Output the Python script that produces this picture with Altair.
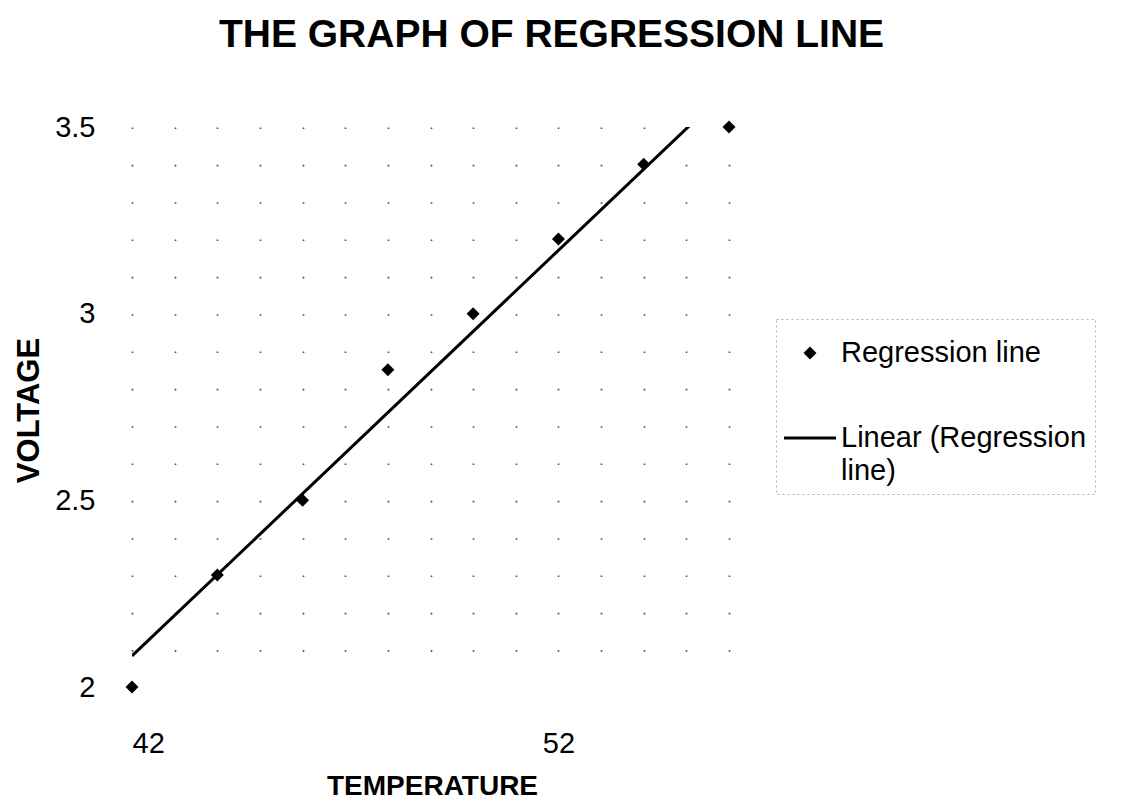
import altair as alt
import pandas as pd

# ---- data ----
temperature = [42, 44, 46, 48, 50, 52, 54, 56]
voltage = [2.0, 2.3, 2.5, 2.85, 3.0, 3.2, 3.4, 3.5]
series_names = ["Regression line", "Linear (Regression line)"]
x_grid_values = list(range(42, 57))
x_label_values = [42, 52]
y_tick_values = [2.0, 2.5, 3.0, 3.5]
chart_title = "THE GRAPH OF REGRESSION LINE"
x_title = "TEMPERATURE"
y_title = "VOLTAGE"

df = pd.DataFrame({"t": temperature, "v": voltage, "s": series_names[0]})

FONT = "Liberation Sans"
# symbol shapes (unit square -1..1): filled diamond, and a thin bar for the trend-line key
diamond_path = "M0,-0.25L0.25,0L0,0.25L-0.25,0Z"
line_path = "M-1,-0.058L1,-0.058L1,0.058L-1,0.058Z"

xscale = alt.Scale(domain=[42, 56], nice=False, zero=False)
yscale = alt.Scale(domain=[2, 3.5], nice=False, zero=False)

label_test = " || ".join(f"datum.value == {v}" for v in x_label_values)

xaxis = alt.Axis(
    values=x_grid_values,
    labelExpr=f"({label_test}) ? datum.label : ''",
    grid=True, gridDash=[1.6, 35.73], gridColor="#444", gridWidth=1.6,
    ticks=False, tickSize=0, domain=False,
    labelPadding=42, labelFontSize=29, labelFont=FONT, labelColor="black",
    labelOverlap=False,
    title=x_title, titleFont=FONT, titleFontSize=28, titleFontWeight="bold",
    titleColor="black", titleX=300, titleY=107, titleBaseline="alphabetic",
    titleAlign="center",
)
yaxis = alt.Axis(
    values=y_tick_values, format=".1~f",
    grid=False, ticks=False, tickSize=0, domain=False,
    labelPadding=37, labelFontSize=29, labelFont=FONT, labelColor="black",
    title=y_title, titleFont=FONT, titleFontSize=31, titleFontWeight="bold",
    titleColor="black", titleX=-94, titleY=283, titleBaseline="alphabetic",
    titleAlign="center", titleAngle=270,
)

legend = alt.Legend(
    title=None, orient="none", legendX=644, legendY=192,
    labelFont=FONT, labelFontSize=29, labelColor="black", labelLimit=400,
    labelOffset=5, labelBaseline="middle",
    symbolSize=2704, symbolStrokeWidth=0, symbolOpacity=1,
    padding=8, rowPadding=44, strokeColor="#b0b0b0",
    labelExpr="datum.label == 'Linear (Regression line)' ? ['Linear (Regression', 'line)'] : datum.label",
)

points = alt.Chart(df).mark_point(filled=True, opacity=1, color="black", size=2704).encode(
    x=alt.X("t:Q", scale=xscale, axis=xaxis),
    y=alt.Y("v:Q", scale=yscale, axis=yaxis),
    shape=alt.Shape("s:N", scale=alt.Scale(domain=series_names, range=[diamond_path, line_path]), legend=legend),
)

reg_line = alt.Chart(df).transform_regression("t", "v", extent=[42, 56]).mark_line(
    color="black", strokeWidth=3, clip=True
).encode(
    x=alt.X("t:Q", scale=xscale),
    y=alt.Y("v:Q", scale=yscale),
)

chart = alt.layer(reg_line, points).properties(
    width=597, height=560,
    autosize=alt.AutoSizeParams(type="none"),
    padding={"left": 124, "top": 119, "right": 384, "bottom": 115},
    title=alt.TitleParams(chart_title, font=FONT, fontSize=39, fontWeight="bold",
                          color="black", anchor="middle", dx=121, offset=58),
).configure(
    background="white",
    view=alt.ViewConfig(stroke="transparent"),
    legend=alt.LegendConfig(strokeDash=[2, 3]),
    style={"guide-label": {"lineHeight": 33}},
)

chart.save("out.html", embed_options={"renderer": "svg", "actions": False})
